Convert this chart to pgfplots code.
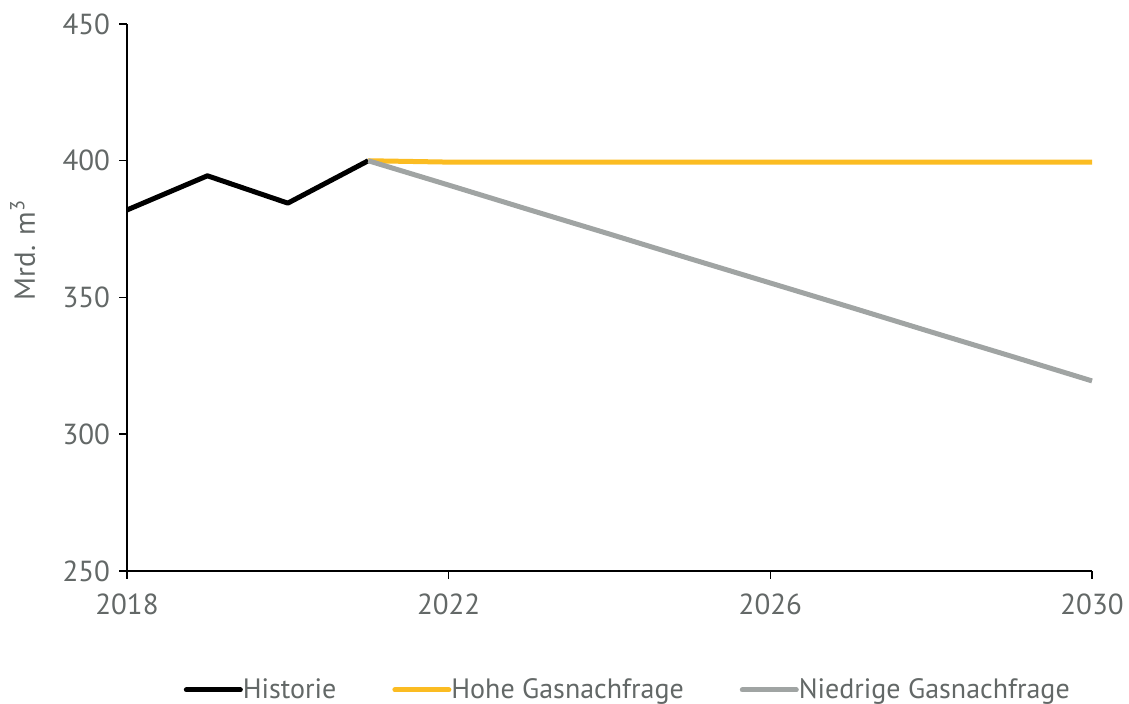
\documentclass[border=0pt]{standalone}
\usepackage{pgfplots}
\pgfplotsset{compat=1.18}
\usepackage{fontspec}
\setmainfont{PT Sans}
\definecolor{txtgray}{HTML}{636867}
\definecolor{hoch}{HTML}{FBBC22}
\definecolor{niedrig}{HTML}{A0A4A3}
\begin{document}
\begin{tikzpicture}
\useasboundingbox (-63.5pt,-66.5pt) rectangle (501pt,285.5pt);
\begin{axis}[
  at={(0,0)}, anchor=south west,
  scale only axis, width=482.5pt, height=273.5pt,
  xmin=2018, xmax=2030, ymin=250, ymax=450,
  xtick={2018,2022,2026,2030}, ytick={250,300,350,400,450},
  axis lines*=left, axis line style={black, line width=0.75pt},
  tick style={black, line width=0.75pt}, tick align=outside,
  major tick length=4pt,
  x tick label style={/pgf/number format/1000 sep={}, yshift=-4pt},
  yticklabel style={xshift=-1pt},
  /pgf/number format/assume math mode=true,
  tick label style={font=\fontsize{14.5}{17}\selectfont, text=txtgray},
  ylabel={Mrd. m\textsuperscript{3}},
  ylabel style={at={(axis description cs:-0.108,0.587)}, anchor=center, font=\fontsize{14.5}{17}\selectfont, text=txtgray},
  legend columns=3,
  legend style={at={(0.52,-0.2175)}, anchor=center, draw=none, fill=none,
    font=\fontsize{14}{17}\selectfont, text=txtgray,
    /tikz/every even column/.append style={column sep=26pt}},
  legend cell align=left,
  legend image code/.code={\draw[#1, line cap=round] (0,0) -- (27pt,0);},
  clip=false,
]
\addplot[black, line width=2.5pt, line join=round] coordinates {
 (2018,382) (2019,394.5) (2020,384.5) (2021,400)};
\addlegendentry{\hspace{-2pt}Historie}
\addplot[hoch, line width=2.5pt, line join=round] coordinates {
 (2021,400) (2022,399.5) (2023,399.5) (2024,399.5) (2025,399.5) (2026,399.5) (2027,399.5) (2028,399.5) (2029,399.5) (2030,399.5)};
\addlegendentry{\hspace{-2pt}Hohe Gasnachfrage}
\addplot[niedrig, line width=2.5pt, line join=round] coordinates {
 (2021,400) (2022,391.1) (2023,382.1) (2024,373.2) (2025,364.2) (2026,355.3) (2027,346.4) (2028,337.4) (2029,328.5) (2030,319.5)};
\addlegendentry{\hspace{-2pt}Niedrige Gasnachfrage}
\end{axis}
\end{tikzpicture}
\end{document}
